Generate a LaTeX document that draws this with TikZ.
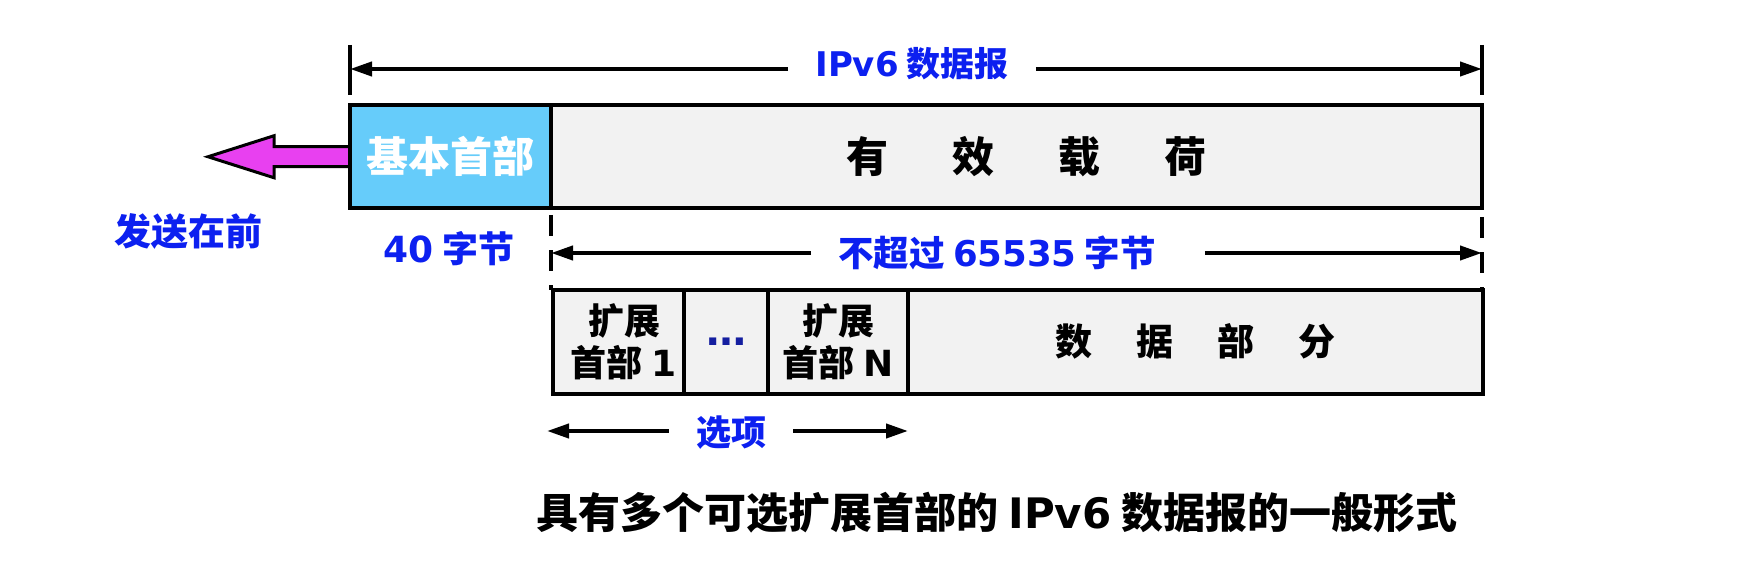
\documentclass[tikz,border=0pt]{standalone}
\usepackage{fontspec}
\setmainfont{DejaVu Sans}
\newfontfamily\cjk{Noto Sans CJK SC}
\usetikzlibrary{arrows.meta,backgrounds}

\definecolor{lblblue}{RGB}{12,32,240}
\definecolor{dotblue}{RGB}{20,30,160}
\definecolor{hdrblue}{RGB}{102,204,250}
\definecolor{boxgray}{RGB}{242,242,242}
\definecolor{sendpink}{RGB}{232,64,240}

\newcommand\fsz[1]{\cjk\bfseries\fontsize{#1}{#1}\selectfont}
\newcommand\ltn[1]{{\rmfamily #1}}

\tikzset{
  cell/.style={draw,line width=4pt,fill=boxgray,inner sep=0pt,outer sep=0pt,anchor=north west,minimum height=103.5pt},
  dimline/.style={line width=4pt,-{Triangle[length=22pt,width=14pt]}},
  endtick/.style={line width=4pt},
  cuttick/.style={line width=4pt,dash pattern=on 21pt off 14pt},
  bluelbl/.style={text=lblblue,inner ysep=0pt,inner xsep=27pt},
  sendarrow/.style={draw=black,line width=3pt,fill=sendpink}
}

\begin{document}
\begin{tikzpicture}[x=1pt,y=-1pt]
  \useasboundingbox (0,0) rectangle (1756,572);
  % datagram
  \node[cell,fill=hdrblue,minimum width=201pt,text=white,font=\fsz{42}] (hdr) at (350,105) {基本首部};
  \node[cell,anchor=west,minimum width=931pt,font=\fsz{42}] (payload) at (hdr.east) {\hspace{20pt}有\hspace{64pt}效\hspace{64pt}载\hspace{64pt}荷};
  % payload split up
  \node[cell,minimum width=131pt,align=center,font=\fsz{36}\linespread{1.14}\selectfont] (ext1) at (553,290) {\hspace{12pt}扩展\\\hspace{10pt}首部 \ltn{1}};
  \node[cell,minimum width=84pt,text=dotblue,font=\fsz{40}\rmfamily] (dots) at (ext1.north east) {…};
  \node[cell,minimum width=140pt,align=center,font=\fsz{36}\linespread{1.14}\selectfont] (extN) at (dots.north east) {扩展\\首部 \ltn{N}};
  \node[cell,minimum width=574.5pt,font=\fsz{37}] (data) at (extN.north east) {数\hspace{44pt}据\hspace{44pt}部\hspace{44pt}分};

  \begin{pgfonlayer}{background}
    \draw[sendarrow] (hdr.west) ++(0,-10) -- ++(-76,0) -- ++(0,-11) -- ++(-66,21) -- ++(66,21) -- ++(0,-11) -- ++(76,0) -- cycle;
  \end{pgfonlayer}

  % total length
  \coordinate (totL) at (350,69);
  \coordinate (totR) at (1482,69);
  \draw[endtick] (totL) ++(0,-24) -- ++(0,50);
  \draw[endtick] (totR) ++(0,-24) -- ++(0,50);
  \node[bluelbl,font=\fsz{34}] (total) at (912,64) {\ltn{IPv6} 数据报};
  \draw[dimline] (total.west |- totL) -- (totL);
  \draw[dimline] (total.east |- totR) -- (totR);

  % payload length
  \coordinate (maxL) at (551,253);
  \coordinate (maxR) at (1482,253);
  \draw[cuttick] (551,215) -- (551,290);
  \draw[cuttick] (1482,217) -- (1482,290);
  \node[bluelbl,font=\fsz{35.5}] (maxlen) at (997,253) {不超过 \ltn{65535} 字节};
  \draw[dimline] (maxlen.west |- maxL) -- (maxL);
  \draw[dimline] ([xshift=22pt]maxlen.east |- maxR) -- (maxR);

  \node[bluelbl,inner sep=0pt,font=\fsz{36}] (hdrlen) at (449,249) {\ltn{40} 字节};
  \node[bluelbl,inner sep=0pt,font=\fsz{37}] (first) at (188,231) {发送在前};

  % options
  \coordinate (optL) at (547,431);
  \coordinate (optR) at (908,431);
  \node[bluelbl,font=\fsz{35}] (opt) at (731,433) {选项};
  \draw[dimline] (opt.west |- optL) -- (optL);
  \draw[dimline] (opt.east |- optR) -- (optR);

  \node[font=\fsz{42}] (caption) at (997,513) {具有多个可选扩展首部的 \ltn{IPv6} 数据报的一般形式};
\end{tikzpicture}
\end{document}
